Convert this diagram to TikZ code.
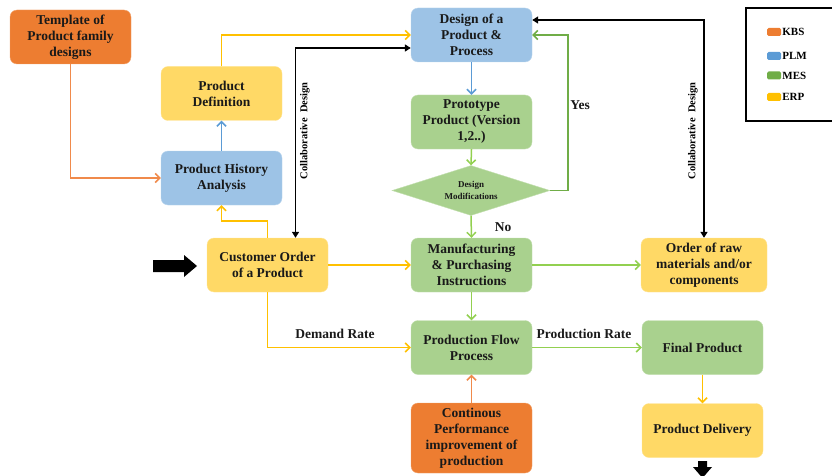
\documentclass[tikz,border=0pt]{standalone}
\usepackage{fontspec}
\setmainfont{Liberation Serif}
\usetikzlibrary{shapes.geometric,arrows.meta}

\definecolor{kbs}{HTML}{ED7D31}
\definecolor{kbsline}{HTML}{F08A4B}
\definecolor{plm}{HTML}{9DC3E6}
\definecolor{plmline}{HTML}{5B9BD5}
\definecolor{mes}{HTML}{A9D18E}
\definecolor{mesline}{HTML}{92D050}
\definecolor{mesdark}{HTML}{70AD47}
\definecolor{erp}{HTML}{FFD966}
\definecolor{erpline}{HTML}{FFC000}

\tikzset{
  box/.style={rounded corners=7pt, minimum width=121pt, minimum height=54pt,
    align=center, inner sep=2pt, text=black!90,
    font=\fontsize{13.5}{16}\selectfont\bfseries},
  kbsbox/.style={box, fill=kbs, draw=kbs!70!white},
  plmbox/.style={box, fill=plm, draw=plm!70!white},
  mesbox/.style={box, fill=mes, draw=mes!70!white},
  erpbox/.style={box, fill=erp, draw=erp!70!white},
  flow/.style={line width=1.5pt, -{Straight Barb[length=4.5pt,width=9pt]}},
  collab/.style={line width=1.5pt, black,
    {Triangle[length=6pt,width=7pt]}-{Triangle[length=6pt,width=7pt]}},
  lbl/.style={font=\fontsize{13.5}{16}\selectfont\bfseries, text=black!90},
  sidelbl/.style={font=\fontsize{10.5}{12}\selectfont\bfseries, rotate=90},
  swatch/.style={rounded corners=1.5pt, minimum width=14pt, minimum height=8pt, inner sep=0pt},
  keylbl/.style={font=\fontsize{11}{12}\selectfont\bfseries, inner sep=1pt, anchor=west}
}

\begin{document}
\begin{tikzpicture}[x=1pt,y=-1pt]
  \useasboundingbox (0,0) rectangle (832,476);

  % boxes
  \node[kbsbox] (tmpl) at (70.5,37) {Template of\\Product family\\designs};
  \node[erpbox] (pdef) at (221.5,93.5) {Product\\Definition};
  \node[plmbox] (phist) at (221.5,178) {Product History\\Analysis};
  \node[plmbox] (design) at (471.5,35) {Design of a\\Product \&\\Process};
  \node[mesbox] (proto) at (471.5,122) {Prototype\\Product (Version\\1,2..)};
  \node[diamond, fill=mes, draw=mes!70!white, minimum width=158pt, minimum height=50pt,
    aspect=3, inner sep=0pt, align=center, text=black!90,
    font=\fontsize{9}{12}\selectfont\bfseries] (dmod) at (471,190.5) {Design\\Modifications};
  \node[erpbox] (cust) at (267.5,265) {Customer Order\\of a Product};
  \node[mesbox] (manuf) at (471.5,265) {Manufacturing\\\& Purchasing\\Instructions};
  \node[erpbox, minimum width=126pt] (order) at (704,265) {Order of raw\\materials and/or\\components};
  \node[mesbox] (pflow) at (471.5,347.5) {Production Flow\\Process};
  \node[mesbox] (final) at (702.5,347.5) {Final Product};
  \node[kbsbox, minimum height=70pt] (cont) at (471.5,438) {Continous\\Performance\\improvement of\\production};
  \node[erpbox] (deliv) at (702.5,430.5) {Product Delivery};

  % connectors
  \draw[flow, kbsline] (tmpl.south) |- (phist.west);
  \draw[flow, plmline] (phist.north) -- (pdef.south);
  \draw[flow, erpline] (pdef.north) |- (design.west);
  \draw[flow, erpline] (cust.north) -- ++(0,-17) -| (phist.south);
  \draw[collab] ([xshift=28pt]cust.north) |- ([yshift=-13pt]design.west);
  \node[sidelbl] (collabl) at (305,131) {Collaborative~~Design};

  \draw[flow, plmline] (design.south) -- (proto.north);
  \draw[flow, mesline] (proto.south) -- (dmod.north);
  \draw[flow, mesline] (dmod.south) -- (manuf.north);
  \node[lbl] (nol) at (503,227) {No};
  \draw[flow, mesdark] (dmod.east) -- ++(18,0) |- (design.east);
  \node[lbl] (yesl) at (580,105) {Yes};

  \draw[collab] (order.north) |- ([yshift=15pt]design.east);
  \node[sidelbl] (collabr) at (693,131) {Collaborative~~Design};

  \draw[flow, erpline] (cust.east) -- (manuf.west);
  \draw[flow, mesline] (manuf.east) -- (order.west);
  \draw[flow, mesline] (manuf.south) -- (pflow.north);
  \draw[flow, erpline] (cust.south) |- (pflow.west);
  \node[lbl] (demand) at (335,334) {Demand Rate};
  \draw[flow, mesline] (pflow.east) -- (final.west);
  \node[lbl] (prate) at (584,334) {Production Rate};
  \draw[flow, kbsline] (cont.north) -- (pflow.south);
  \draw[flow, erpline] (final.south) -- (deliv.north);

  % block arrows
  \fill[black] (153,260) -- (184,260) -- (184,255) -- (197,266) -- (184,277)
    -- (184,272) -- (153,272) -- cycle;
  \fill[black] (698,461) -- (707,461) -- (707,467) -- (712,467) -- (702.5,478)
    -- (693,467) -- (698,467) -- cycle;

  % legend
  \draw[line width=1.2pt] (746,8) rectangle (850,121);
  \node[swatch, fill=kbs] (kbskey) at (774,32) {};
  \node[keylbl] at (kbskey.east) {KBS};
  \node[swatch, fill=plmline] (plmkey) at (774,56) {};
  \node[keylbl] at (plmkey.east) {PLM};
  \node[swatch, fill=mesdark] (meskey) at (774,75.5) {};
  \node[keylbl] at (meskey.east) {MES};
  \node[swatch, fill=erpline] (erpkey) at (774,97) {};
  \node[keylbl] at (erpkey.east) {ERP};
\end{tikzpicture}
\end{document}
